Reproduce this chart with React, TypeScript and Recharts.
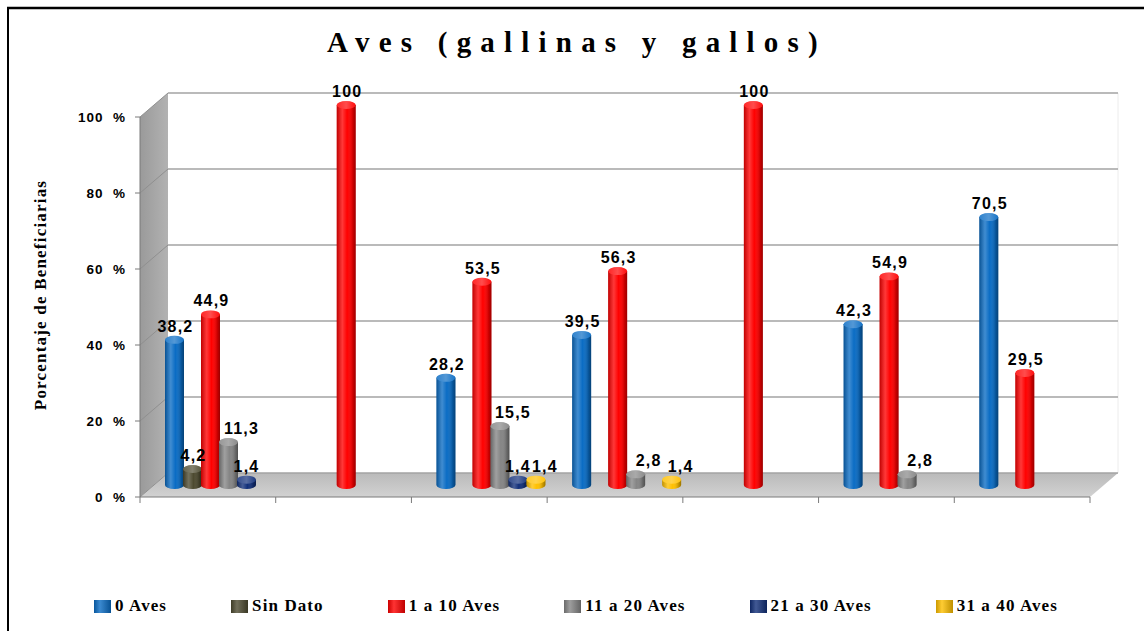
import React from 'react'
import { BarChart, Bar, XAxis, YAxis, CartesianGrid, LabelList } from 'recharts'

// --- datos ---
const categorias = ['Grupo 1', 'Grupo 2', 'Grupo 3', 'Grupo 4', 'Grupo 5', 'Grupo 6', 'Grupo 7']
const ceroAves = [38.2, null, 28.2, 39.5, null, 42.3, 70.5]
const sinDato = [4.2, null, null, null, null, null, null]
const unoADiez = [44.9, 100, 53.5, 56.3, 100, 54.9, 29.5]
const onceAVeinte = [11.3, null, 15.5, 2.8, null, 2.8, null]
const veintiunoATreinta = [1.4, null, 1.4, null, null, null, null]
const treintayunoACuarenta = [null, null, 1.4, 1.4, null, null, null]
const ticksY = [0, 20, 40, 60, 80, 100]

const series = [
  { key: 'cero', name: '0 Aves', values: ceroAves, color: '#0a6cc4' },
  { key: 'sinDato', name: 'Sin Dato', values: sinDato, color: '#4d4a30' },
  { key: 'unoDiez', name: '1 a 10 Aves', values: unoADiez, color: '#ff0000' },
  { key: 'onceVeinte', name: '11 a 20 Aves', values: onceAVeinte, color: '#858585' },
  { key: 'veintiunoTreinta', name: '21 a 30 Aves', values: veintiunoATreinta, color: '#12307a' },
  { key: 'treintayunoCuarenta', name: '31 a 40 Aves', values: treintayunoACuarenta, color: '#ffc000' },
]

const data = categorias.map((cat, i) => {
  const row: Record<string, any> = { cat }
  series.forEach((s) => {
    row[s.key] = s.values[i]
  })
  return row
})

// --- layout ---
const W = 1144
const H = 631
const PLOT_LEFT = 140
const PLOT_RIGHT = 1090
const PLOT_TOP = 117
const PLOT_BOTTOM = 497
const DEPTH_X = 28
const DEPTH_Y = 24
const BAR_DX = 12
const BAR_DY = 12
const X_AXIS_H = 10

// corrimiento horizontal de las etiquetas, como en el original
const desplazEtiqueta: Record<string, number> = {
  onceVeinte: 12,
  veintiunoTreinta: -1,
  treintayunoCuarenta: 8,
}

const fmt = (v: number) => String(v).replace('.', ',')

const makeCylinder = (key: string) => (props: any) => {
  const { x, y, width, height, fill, payload } = props
  if (!payload || payload[key] == null) return <g />
  const rx = width / 2
  const ry = width * 0.21
  const x0 = x + BAR_DX
  const x1 = x0 + width
  const top = y - BAR_DY
  const bottom = y + height - BAR_DY
  const body = `M${x0},${top} L${x0},${bottom} A${rx},${ry} 0 0 0 ${x1},${bottom} L${x1},${top} Z`
  return (
    <g>
      <path d={body} fill={fill} />
      <path d={body} fill="url(#cilSombra)" />
      <ellipse cx={x0 + rx} cy={top} rx={rx} ry={ry} fill={fill} />
      <ellipse cx={x0 + rx} cy={top} rx={rx} ry={ry} fill="url(#cilTapa)" />
    </g>
  )
}

const makeEtiqueta = (key: string) => (p: any) => {
  const v = p.value
  const vb = p.viewBox ?? p
  if (v == null || vb == null || vb.x == null) return null
  const cx = vb.x + vb.width / 2 + BAR_DX + 1 + (desplazEtiqueta[key] ?? 0)
  const ty = vb.y - BAR_DY - vb.width * 0.21 - 4
  return (
    <text
      x={cx}
      y={ty}
      textAnchor="middle"
      fontFamily="'Liberation Sans', Arial, sans-serif"
      fontWeight={700}
      fontSize={16}
      letterSpacing={1.2}
      fill="#000"
    >
      {fmt(v)}
    </text>
  )
}

// marcas del eje X en los límites de cada categoría
const marcaLimite = (p: any) => {
  const band = (PLOT_RIGHT - PLOT_LEFT) / categorias.length
  const off = p.payload?.offset ?? band / 2
  const idx = p.payload?.index ?? p.index
  const left = p.x - off
  return (
    <g>
      <line x1={left} y1={p.y} x2={left} y2={p.y + 6} stroke="#7a7a7a" />
      {idx === categorias.length - 1 && (
        <line x1={p.x + off} y1={p.y} x2={p.x + off} y2={p.y + 6} stroke="#7a7a7a" />
      )}
    </g>
  )
}

// líneas de la grilla desplazadas hacia el fondo (efecto 3D)
const lineaFondo = (p: any) => (
  <g key={p.key}>
    <line x1={p.x1} y1={p.y1} x2={p.x1 + DEPTH_X} y2={p.y1 - DEPTH_Y} stroke="#8f8f8f" strokeWidth={1} />
    <line x1={p.x1 + DEPTH_X} y1={p.y1 - DEPTH_Y} x2={p.x2 + DEPTH_X} y2={p.y2 - DEPTH_Y} stroke="#a3a3a3" strokeWidth={1.6} />
  </g>
)

const Fondo = () => (
  <svg width={W} height={H} style={{ position: 'absolute', left: 0, top: 0 }}>
    <defs>
      <linearGradient id="cilSombra" x1="0" y1="0" x2="1" y2="0">
        <stop offset="0%" stopColor="#000" stopOpacity={0.25} />
        <stop offset="30%" stopColor="#fff" stopOpacity={0.22} />
        <stop offset="55%" stopColor="#fff" stopOpacity={0} />
        <stop offset="85%" stopColor="#000" stopOpacity={0.2} />
        <stop offset="100%" stopColor="#000" stopOpacity={0.4} />
      </linearGradient>
      <linearGradient id="cilTapa" x1="0" y1="0" x2="1" y2="0">
        <stop offset="0%" stopColor="#fff" stopOpacity={0.15} />
        <stop offset="50%" stopColor="#fff" stopOpacity={0.3} />
        <stop offset="100%" stopColor="#fff" stopOpacity={0.05} />
      </linearGradient>
      <linearGradient id="pared" x1="0" y1="0" x2="1" y2="0">
        <stop offset="0%" stopColor="#9a9a9a" />
        <stop offset="100%" stopColor="#b2b2b2" />
      </linearGradient>
      <linearGradient id="piso" x1="0" y1="0" x2="0" y2="1">
        <stop offset="0%" stopColor="#bababa" />
        <stop offset="100%" stopColor="#d2d2d2" />
      </linearGradient>
    </defs>
    <rect x={0} y={0} width={W} height={H} fill="#fff" />
    <line x1={7} y1={8} x2={W} y2={8} stroke="#000" strokeWidth={2.5} />
    <line x1={8} y1={7} x2={8} y2={H} stroke="#000" strokeWidth={2} />
    <polygon
      points={`${PLOT_LEFT},${PLOT_TOP} ${PLOT_LEFT + DEPTH_X},${PLOT_TOP - DEPTH_Y} ${PLOT_LEFT + DEPTH_X},${PLOT_BOTTOM - DEPTH_Y} ${PLOT_LEFT},${PLOT_BOTTOM}`}
      fill="url(#pared)"
    />
    <polygon
      points={`${PLOT_LEFT},${PLOT_BOTTOM} ${PLOT_LEFT + DEPTH_X},${PLOT_BOTTOM - DEPTH_Y} ${PLOT_RIGHT + DEPTH_X},${PLOT_BOTTOM - DEPTH_Y} ${PLOT_RIGHT},${PLOT_BOTTOM}`}
      fill="url(#piso)"
    />
    <line
      x1={PLOT_RIGHT + DEPTH_X}
      y1={PLOT_TOP - DEPTH_Y}
      x2={PLOT_RIGHT + DEPTH_X}
      y2={PLOT_BOTTOM - DEPTH_Y}
      stroke="#ececec"
    />
    <text
      x={577}
      y={52}
      textAnchor="middle"
      fontFamily="'Liberation Serif', 'Times New Roman', serif"
      fontWeight={700}
      fontSize={29}
      letterSpacing={9.2}
      fill="#000"
    >
      Aves (gallinas y gallos)
    </text>
    <text
      x={46}
      y={295}
      transform="rotate(-90 46 295)"
      textAnchor="middle"
      fontFamily="'Liberation Serif', 'Times New Roman', serif"
      fontWeight={700}
      fontSize={17}
      letterSpacing={1.2}
      fill="#000"
    >
      Porcentaje de Beneficiarias
    </text>
  </svg>
)

const Leyenda = () => (
  <div
    style={{
      position: 'absolute',
      left: 94,
      top: 596,
      display: 'flex',
      alignItems: 'center',
      gap: 64,
      fontFamily: "'Liberation Serif', 'Times New Roman', serif",
      fontWeight: 700,
      fontSize: 17,
      letterSpacing: 1.1,
      whiteSpace: 'nowrap',
    }}
  >
    {series.map((s) => (
      <div key={s.key} style={{ display: 'flex', alignItems: 'center', gap: 4 }}>
        <span
          style={{
            display: 'inline-block',
            width: 17,
            height: 13,
            background: `linear-gradient(90deg, rgba(0,0,0,0.2), rgba(255,255,255,0.2) 35%, rgba(0,0,0,0.25)), ${s.color}`,
          }}
        />
        <span>{s.name}</span>
      </div>
    ))}
  </div>
)

export default function App() {
  return (
    <div style={{ position: 'absolute', left: 0, top: 0, width: W, height: H, overflow: 'hidden', background: '#fff' }}>
      <Fondo />
      <div style={{ position: 'absolute', left: 0, top: 0 }}>
        <BarChart
          width={W}
          height={H}
          data={data}
          barGap={-1}
          margin={{ top: PLOT_TOP, right: W - PLOT_RIGHT, left: 0, bottom: H - PLOT_BOTTOM - X_AXIS_H }}
        >
          <CartesianGrid vertical={false} horizontal={lineaFondo} />
          <XAxis
            dataKey="cat"
            height={X_AXIS_H}
            interval={0}
            tickSize={0}
            tickMargin={0}
            tickLine={false}
            tick={marcaLimite}
            axisLine={{ stroke: '#7a7a7a' }}
          />
          <YAxis
            domain={[0, 100]}
            ticks={ticksY}
            interval={0}
            width={PLOT_LEFT}
            tickSize={5}
            tickMargin={9}
            tickFormatter={(v: number) => `${v}\u00a0\u00a0%`}
            tick={{ fill: '#000', fontSize: 13.5, fontWeight: 700, fontFamily: "'Liberation Sans', Arial, sans-serif", letterSpacing: 1 }}
            tickLine={{ stroke: '#7a7a7a' }}
            axisLine={{ stroke: '#7a7a7a' }}
          />
          {series.map((s) => (
            <Bar
              key={s.key}
              dataKey={s.key}
              name={s.name}
              fill={s.color}
              barSize={19}
              isAnimationActive={false}
              shape={makeCylinder(s.key)}
            >
              <LabelList dataKey={s.key} content={makeEtiqueta(s.key)} />
            </Bar>
          ))}
        </BarChart>
      </div>
      <Leyenda />
    </div>
  )
}
